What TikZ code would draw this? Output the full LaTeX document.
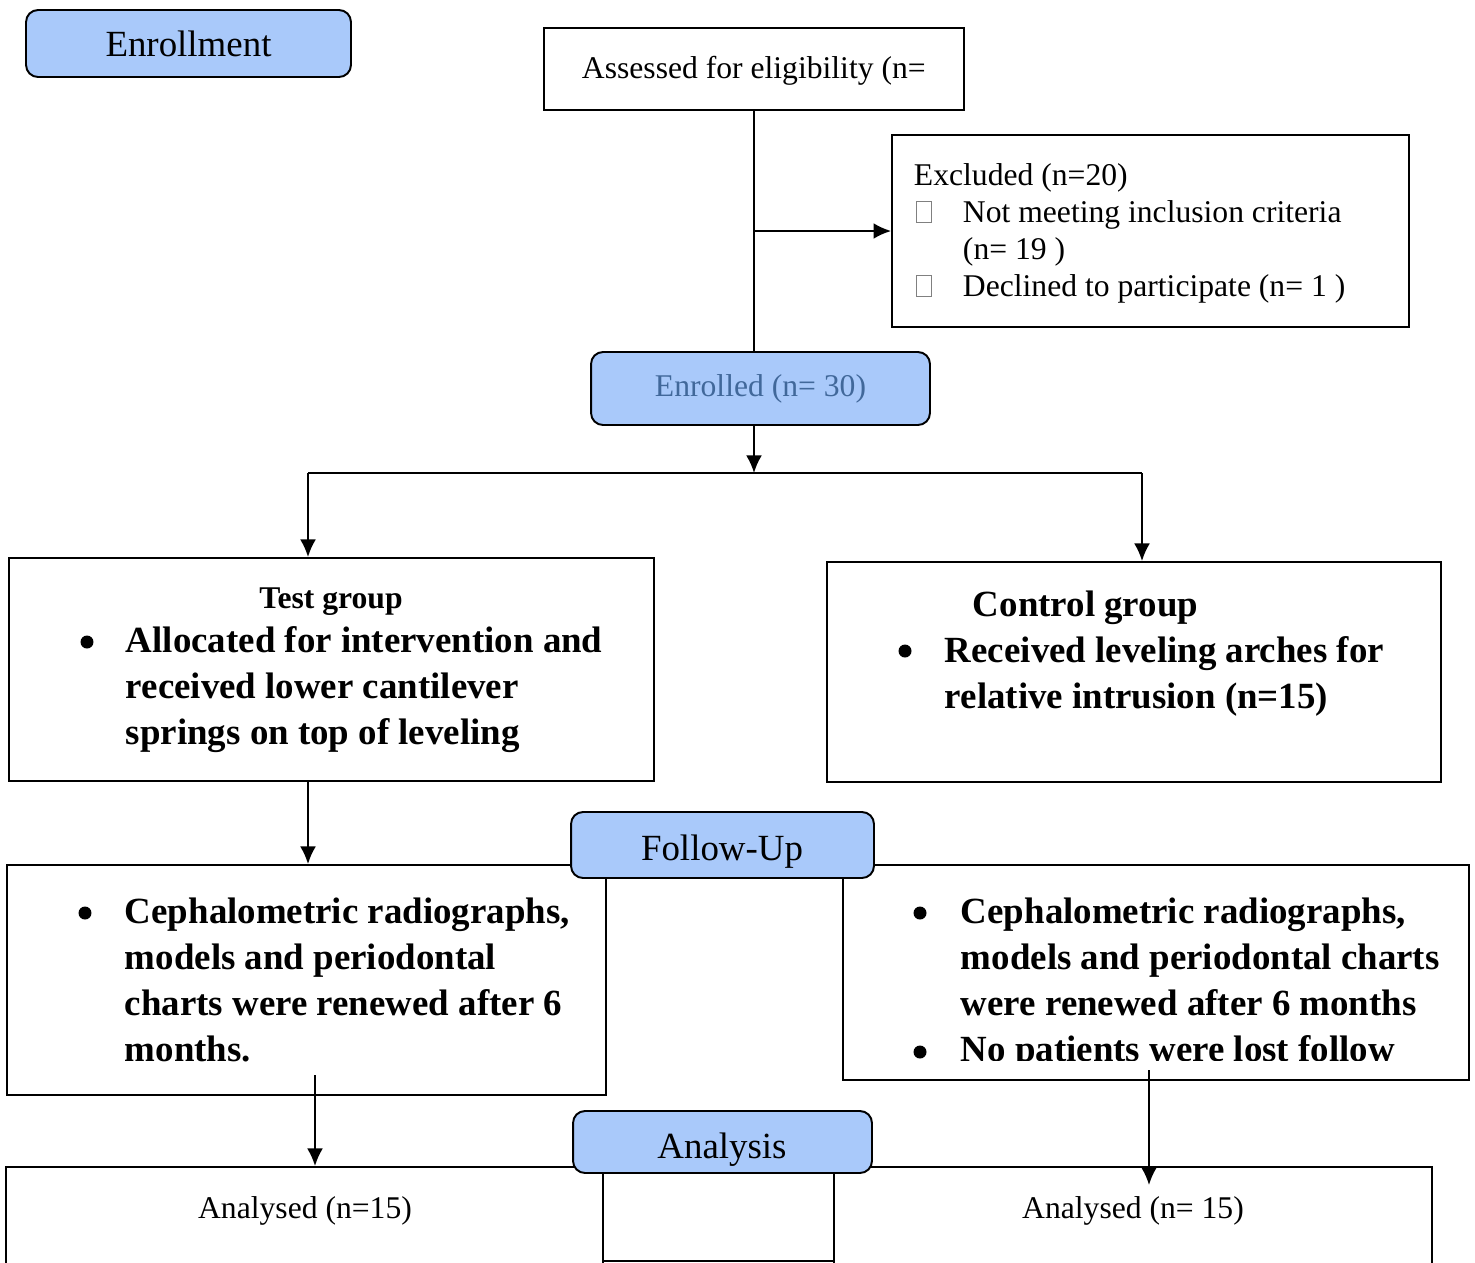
\documentclass[tikz,border=0pt]{standalone}
\usepackage{fontspec}
\setmainfont{Liberation Serif}
\usetikzlibrary{arrows.meta,positioning}
\definecolor{boxblue}{HTML}{A9C9FA}
\definecolor{enrtext}{HTML}{41689A}
\begin{document}
\begin{tikzpicture}[x=0.02cm,y=-0.02cm,>={Latex[length=10pt,width=9pt]},line width=1.1pt]
        \tikzset{block/.style={draw, rectangle, inner sep=0pt},
        rblock/.style={draw, rectangle, rounded corners=0.24cm, fill=boxblue, inner sep=0pt},
        txt/.style={inner sep=0pt, font=\fontsize{18}{21}\selectfont},
        big/.style={inner sep=0pt, font=\fontsize{21}{25}\selectfont},
        btxt/.style={inner sep=0pt, align=left, font=\bfseries\fontsize{21}{26}\selectfont},
        dot/.style={circle, fill, inner sep=0pt, minimum size=0.26cm},
        chk/.style={draw=gray, line width=0.4pt, minimum width=0.3cm, minimum height=0.42cm, inner sep=0pt}
        }
        \clip (0,0) rectangle (1475,1262);

        \node [rblock, big, minimum width=6.5cm, minimum height=1.34cm] (enroll) at (188.5,43.5) {Enrollment};

        \node [block, minimum width=8.4cm, minimum height=1.64cm] (assess) at (754,69) {};
        \node [txt, anchor=base west] (assess_t) at (581,78) {Assessed for eligibility (n=};

        \node [block, minimum width=10.34cm, minimum height=3.84cm] (excl) at (1150.5,231) {};
        \node [txt, anchor=base west] (excl_t) at (913,185) {Excluded (n=20)};
        % multi-line text: base is the last line
        \node [txt, anchor=base west, align=left] (excl_a) at (962,259) {Not meeting inclusion criteria\\(n= 19 )};
        \node [txt, anchor=base west] (excl_b) at (962,296) {Declined to participate (n= 1 )};
        \node [chk] (chk_a) at (924,212) {};
        \node [chk] (chk_b) at (924,286) {};

        \node [rblock, txt, text=enrtext, minimum width=6.78cm, minimum height=1.46cm] (enrolled) at (760.5,388.5) {Enrolled (n= 30)};

        \node [block, minimum width=12.9cm, minimum height=4.46cm] (testgrp) at (331.5,669.5) {};
        \node [txt, font=\bfseries\fontsize{18}{21}\selectfont, anchor=base] (test_t) at (331,608) {Test group};
        \node [btxt, anchor=base west] (test_b) at (125,744) {Allocated for intervention and\\received lower cantilever\\springs on top of leveling};
        \node [dot] (test_dot) at (87,642) {};

        \node [block, minimum width=12.28cm, minimum height=4.4cm] (ctrlgrp) at (1134,672) {};
        \node [btxt, anchor=base west] (ctrl_t) at (972,616) {Control group};
        \node [btxt, anchor=base west] (ctrl_b) at (944,708) {Received leveling arches for\\relative intrusion (n=15)};
        \node [dot] (ctrl_dot) at (905,651) {};

        \node [block, minimum width=11.98cm, minimum height=4.6cm] (fuleft) at (306.5,980) {};
        \node [block, minimum width=12.52cm, minimum height=4.3cm] (furight) at (1156,972.5) {};
        \node [rblock, minimum width=6.06cm, minimum height=1.32cm] (followup) at (722.5,845) {};
        \node [big, anchor=base] (followup_t) at (722,860) {Follow-Up};

        \node [btxt, anchor=base west] (fl_b) at (124,1061) {Cephalometric radiographs,\\models and periodontal\\charts were renewed after 6\\months.};
        \node [dot] (fl_dot) at (85,913) {};
        \node [btxt, anchor=base west] (fr_b) at (960,1015) {Cephalometric radiographs,\\models and periodontal charts\\were renewed after 6 months};
        \node [dot] (fr_dot1) at (920,913) {};
        \begin{scope}
        \clip (843,1030) rectangle (1469,1060);
        \node [btxt, anchor=base west] (fr_c) at (960,1061) {No patients were lost follow};
        \end{scope}
        \node [dot] (fr_dot2) at (920,1052) {};

        \node [block, minimum width=11.94cm, minimum height=2.66cm] (anleft) at (304.5,1233.5) {};
        \node [block, minimum width=11.96cm, minimum height=2.66cm] (anright) at (1133,1233.5) {};
        \node [block, fill=white, minimum width=4.62cm, minimum height=1.76cm] (anmid) at (718.5,1217) {};
        \node [rblock, minimum width=5.98cm, minimum height=1.24cm] (analysis) at (722.5,1142) {};
        \node [big, anchor=base] (analysis_t) at (722,1158) {Analysis};
        \node [txt, anchor=base] (anl_t) at (305,1218) {Analysed (n=15)};
        \node [txt, anchor=base] (anr_t) at (1133,1218) {Analysed (n= 15)};

%% paths
        \coordinate (split) at (754,473);
        \coordinate (splitL) at (308,473);
        \coordinate (splitR) at (1142,473);
        \coordinate (outL) at (315,1075);
        \coordinate (outR) at (1149,1070);
        \coordinate (inR) at (1149,1185);

        \draw (assess.south) -- (assess.south |- enrolled.north);
        \draw[->] (assess.south |- excl.west) -- (excl.west);
        \draw[->] (assess.south |- enrolled.south) -- (split);
        \draw (splitL) -- (splitR);
        \draw[->] (splitL) -- (splitL |- testgrp.north);
        \draw[->] (splitR) -- (splitR |- ctrlgrp.north);
        \draw[->] (splitL |- testgrp.south) -- (splitL |- fuleft.north);
        \draw[->] (outL) -- (outL |- anleft.north);
        \draw[->] (outR) -- (inR);
\end{tikzpicture}
\end{document}
